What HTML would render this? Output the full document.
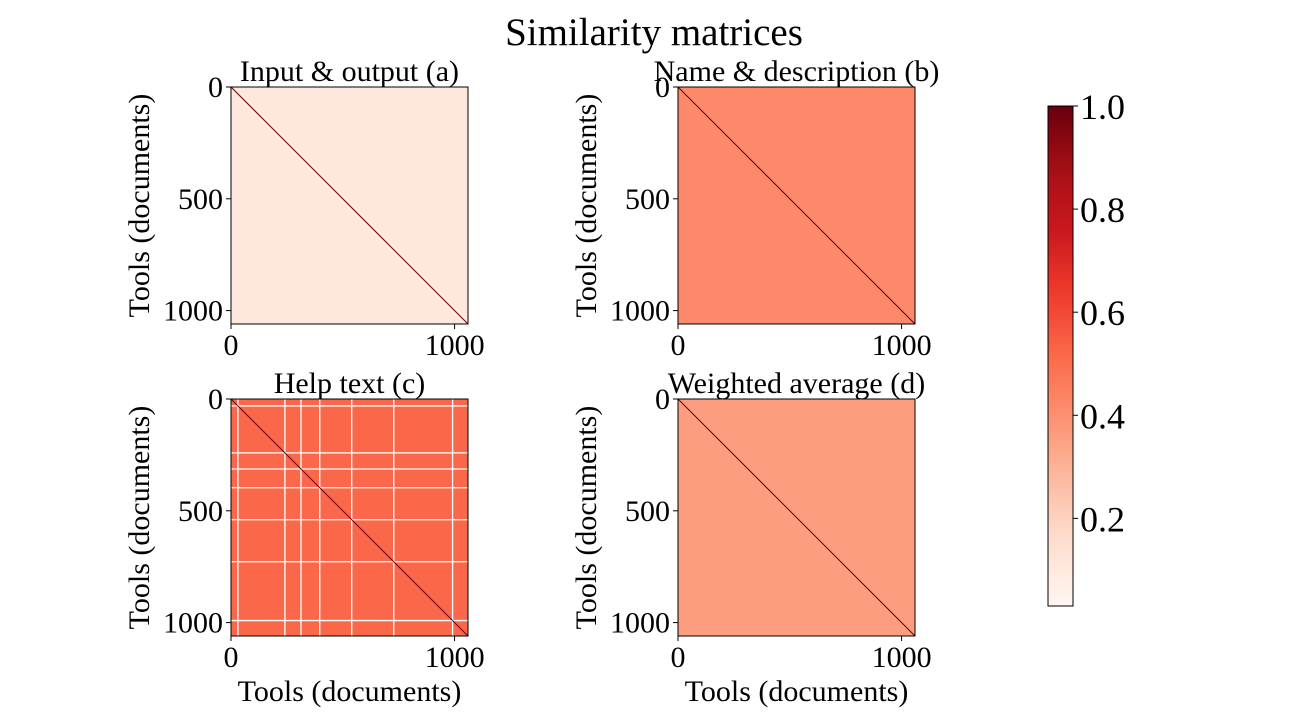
<!DOCTYPE html>
<html><head><meta charset="utf-8">
<style>
html,body{margin:0;padding:0;background:#fff;}
svg{display:block;font-family:"Liberation Serif",serif;}
</style></head>
<body>
<svg id="fig" width="1309" height="713" viewBox="0 0 1309 713" xmlns="http://www.w3.org/2000/svg">
<text x="654" y="45" font-size="39" text-anchor="middle">Similarity matrices</text>
<g id="panels"></g>
<g id="cbar"></g>
</svg>
<script>
const panelTitles = ["Input & output (a)", "Name & description (b)", "Help text (c)", "Weighted average (d)"];
const panelMeans = [0.11, 0.42, 0.52, 0.36];
const stripeDocs = [[], [], [31, 241, 313, 397, 540, 728, 991], []];
const nDocs = 1060;
const xTicks = [0, 1000];
const yTicks = [0, 500, 1000];
const cbarTicks = [0.2, 0.4, 0.6, 0.8, 1.0];
const cbarTickLabels = ["0.2", "0.4", "0.6", "0.8", "1.0"];
const vmin = 0.03, vmax = 1.0;

const NS = "http://www.w3.org/2000/svg";
const stops = ["#fff5f0","#fee0d2","#fcbba1","#fc9272","#fb6a4a","#ef3b2c","#cb181d","#a50f15","#67000d"];
function hex(c){return [1,3,5].map(i=>parseInt(c.substr(i,2),16));}
function cmap(v){
  let t=(v-vmin)/(vmax-vmin); t=Math.max(0,Math.min(1,t));
  const s=t*(stops.length-1); const i=Math.min(Math.floor(s),stops.length-2); const f=s-i;
  const a=hex(stops[i]), b=hex(stops[i+1]);
  return "rgb("+a.map((x,k)=>Math.round(x+(b[k]-x)*f)).join(",")+")";
}
function el(tag, attrs, parent){
  const e=document.createElementNS(NS,tag);
  for(const k in attrs) e.setAttribute(k,attrs[k]);
  parent.appendChild(e); return e;
}
const panelBoxes = [{x:231,y:87},{x:678,y:87},{x:231,y:399},{x:678,y:399}];
const size = 237;
const panelsG = document.getElementById("panels");
panelTitles.forEach((title, p) => {
  const bx = panelBoxes[p].x, by = panelBoxes[p].y;
  const sx = d => bx + d / nDocs * size;
  const sy = d => by + d / nDocs * size;
  const g = el("g", {}, panelsG);
  
  
  const bg = el("rect", {x:bx, y:by, width:size, height:size, fill:cmap(panelMeans[p])}, g);
  
  
  stripeDocs[p].forEach(d => {
    const v = el("line", {x1:sx(d), x2:sx(d), y1:by, y2:by+size, stroke:"#fff", "stroke-width":1.3}, g);
    
    
    const h = el("line", {x1:bx, x2:bx+size, y1:sy(d), y2:sy(d), stroke:"#fff", "stroke-width":1.3}, g);
    
    
  });
  const diag = el("line", {x1:sx(0), y1:sy(0), x2:sx(nDocs), y2:sy(nDocs), stroke:cmap(1.0), "stroke-width":1}, g);
  
  
  const frame = el("rect", {x:bx, y:by, width:size, height:size, fill:"none", stroke:"#000", "stroke-width":1}, g);
  
  
  const t = el("text", {x:bx+size/2, y:by-6, "font-size":30, "text-anchor":"middle"}, g);
  t.textContent = title;
  
  
  xTicks.forEach(v => {
    el("line", {x1:sx(v), x2:sx(v), y1:by+size, y2:by+size+5, stroke:"#000"}, g);
    const xl = el("text", {x:sx(v), y:by+size+31, "font-size":30, "text-anchor":"middle"}, g);
    xl.textContent = v;
    
    
  });
  yTicks.forEach(v => {
    el("line", {x1:bx-5, x2:bx, y1:sy(v), y2:sy(v), stroke:"#000"}, g);
    const yl = el("text", {x:bx-8, y:sy(v)+10, "font-size":30, "text-anchor":"end"}, g);
    yl.textContent = v;
    
    
  });
  const ya = el("text", {x:0, y:0, "font-size":30, "text-anchor":"middle", transform:"translate("+(bx-82)+","+(by+size/2)+") rotate(-90)"}, g);
  ya.textContent = "Tools (documents)";
  
  
  if (p >= 2) {
    const xa = el("text", {x:bx+size/2, y:by+size+65, "font-size":30, "text-anchor":"middle"}, g);
    xa.textContent = "Tools (documents)";
    
    
  }
});
// colorbar
const cb = document.getElementById("cbar");


const cbx = 1048, cby = 106, cbw = 25, cbh = 500;
const cy = v => cby + (vmax - v) / (vmax - vmin) * cbh;
const defs = el("defs", {}, cb);
const grad = el("linearGradient", {id:"redsGrad", x1:0, y1:1, x2:0, y2:0}, defs);
for (let i = 0; i <= 20; i++) {
  const v = vmin + (vmax - vmin) * i / 20;
  el("stop", {offset:(i/20), "stop-color":cmap(v)}, grad);
}
el("rect", {x:cbx, y:cby, width:cbw, height:cbh, fill:"url(#redsGrad)", stroke:"#000", "stroke-width":1}, cb);
cbarTicks.forEach((v, i) => {
  el("line", {x1:cbx+cbw, x2:cbx+cbw+5, y1:cy(v), y2:cy(v), stroke:"#000"}, cb);
  const tl = el("text", {x:cbx+cbw+7, y:cy(v)+13, "font-size":36}, cb);
  tl.textContent = cbarTickLabels[i];
  
  
});
</script>
</body></html>
